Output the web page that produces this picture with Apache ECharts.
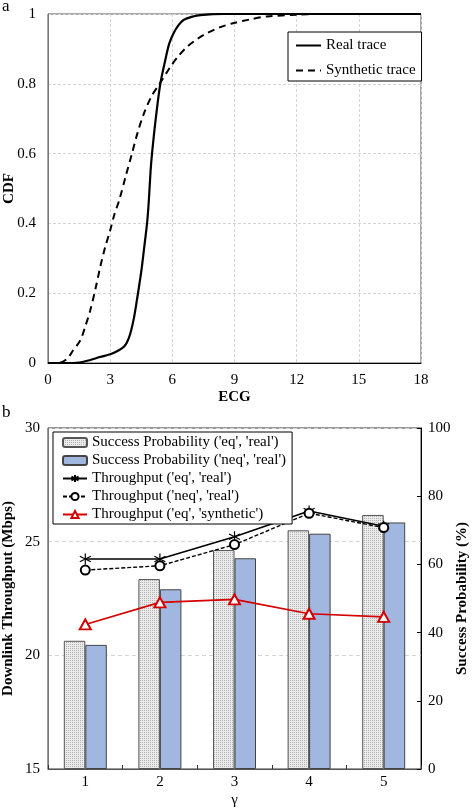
<!DOCTYPE html>
<html>
<head>
<meta charset="utf-8">
<script src="https://cdn.jsdelivr.net/npm/echarts@6/dist/echarts.min.js"></script>
<style>
html,body{margin:0;padding:0;background:#fff;}
#c{width:472px;height:810px;}
</style>
</head>
<body>
<div id="c"></div>
<script>
// ---- Chart (a): CDF data ----
var realTrace = [[0,0],[1.2,0],[1.5,0.001],[2.0,0.008],[2.5,0.017],[3.0,0.025],[3.4,0.036],[3.65,0.046],[3.8,0.058],[3.97,0.084],[4.15,0.13],[4.29,0.18],[4.42,0.23],[4.53,0.275],[4.66,0.34],[4.78,0.40],[4.86,0.46],[4.95,0.55],[5.02,0.60],[5.2,0.70],[5.42,0.80],[5.66,0.868],[5.85,0.915],[6.06,0.945],[6.3,0.968],[6.54,0.983],[7.0,0.993],[7.35,0.997],[8.5,1],[18,1]];
var synthTrace = [[0,0],[0.51,0],[0.92,0.012],[1.2,0.035],[1.56,0.065],[1.8,0.105],[2.04,0.151],[2.3,0.215],[2.52,0.275],[2.75,0.33],[3.0,0.38],[3.2,0.425],[3.44,0.467],[3.75,0.535],[4.05,0.60],[4.3,0.655],[4.61,0.712],[5.0,0.765],[5.39,0.80],[5.9,0.848],[6.3,0.88],[6.71,0.906],[7.2,0.928],[7.67,0.945],[8.3,0.962],[8.96,0.974],[9.8,0.985],[10.57,0.993],[12.0,0.998],[13.0,1],[18,1]];
var cdfXTicks = [0, 3, 6, 9, 12, 15, 18];

// ---- Chart (b): gamma data ----
var gammaCats = ['1', '2', '3', '4', '5'];
var succEqReal = [37.6, 55.7, 64.2, 70.0, 74.5];
var succNeqReal = [36.4, 52.7, 61.8, 69.0, 72.3];
var thrEqReal = [24.24, 24.24, 25.22, 26.35, 25.68];
var thrNeqReal = [23.75, 23.94, 24.87, 26.25, 25.62];
var thrEqSynth = [21.36, 22.33, 22.46, 21.83, 21.69];

// stipple pattern for grey bars
var pc = document.createElement('canvas');
pc.width = 2; pc.height = 2;
var pctx = pc.getContext('2d');
pctx.fillStyle = '#ececec'; pctx.fillRect(0,0,2,2);
pctx.fillStyle = '#b0b0b0'; pctx.fillRect(0,0,1,1);
var stipple = {image: pc, repeat: 'repeat'};

var FONT = 'Liberation Serif';
var txt = {fontFamily: FONT, fontSize: 15, color: '#000'};
var nameTxt = {fontFamily: FONT, fontSize: 15, fontWeight: 'bold', color: '#000'};
var asterisk = 'path://M5,0L5,10M0.7,2.5L9.3,7.5M9.3,2.5L0.7,7.5';

var chart = echarts.init(document.getElementById('c'), null, {renderer: 'canvas'});
chart.setOption({
  backgroundColor: '#fff',
  animation: false,
  textStyle: {fontFamily: FONT},
  graphic: [
    {type: 'text', left: 2, top: -2, style: {text: 'a', font: '17px "Liberation Serif"', fill: '#000'}},
    {type: 'text', left: 2, top: 404, style: {text: 'b', font: '17px "Liberation Serif"', fill: '#000'}}
  ],
  grid: [
    {left: 48, top: 14, width: 373, height: 349, show: true, borderColor: '#555', borderWidth: 1, containLabel: false, outerBoundsMode: 'none'},
    {left: 48, top: 428, width: 373, height: 341, show: true, borderColor: '#333', borderWidth: 1, containLabel: false, outerBoundsMode: 'none'}
  ],
  legend: [
    {
      data: [{name: 'Real trace', itemStyle: {opacity: 0}}, {name: 'Synthetic trace', itemStyle: {opacity: 0}}],
      orient: 'vertical', left: 288, top: 32,
      padding: [6, 6, 3, 7], itemGap: 10, itemWidth: 25, itemHeight: 10,
      borderColor: '#000', borderWidth: 1, backgroundColor: '#fff',
      textStyle: {fontFamily: FONT, fontSize: 15, color: '#000'}
    },
    {
      data: ["Success Probability ('eq', 'real')", "Success Probability ('neq', 'real')", "Throughput ('eq', 'real')", "Throughput ('neq', 'real')", "Throughput ('eq', 'synthetic')"],
      orient: 'vertical', left: 53, top: 432,
      padding: [3, 6, 2, 9], itemGap: 3, itemWidth: 24, itemHeight: 9,
      borderColor: '#000', borderWidth: 1, backgroundColor: '#fff',
      textStyle: {fontFamily: FONT, fontSize: 15, color: '#000'}
    }
  ],
  xAxis: [
    {
      type: 'value', gridIndex: 0, min: 0, max: 18, interval: 3,
      axisLine: {lineStyle: {color: '#000', width: 1}},
      axisTick: {show: false},
      axisLabel: Object.assign({margin: 10}, txt),
      splitLine: {show: true, lineStyle: {color: '#d4d4d4', type: [3, 2]}},
      name: 'ECG', nameLocation: 'middle', nameGap: 27, nameMoveOverlap: false, nameTextStyle: nameTxt
    },
    {
      type: 'category', gridIndex: 1, data: gammaCats, boundaryGap: true,
      axisLine: {lineStyle: {color: '#555', width: 1}},
      axisTick: {show: true, inside: true, length: 4, lineStyle: {color: '#333'}},
      axisLabel: Object.assign({margin: 6}, txt),
      splitLine: {show: false},
      name: 'γ', nameLocation: 'middle', nameGap: 24, nameMoveOverlap: false,
      nameTextStyle: {fontFamily: FONT, fontSize: 15, color: '#000'}
    }
  ],
  yAxis: [
    {
      type: 'value', gridIndex: 0, min: 0, max: 1, interval: 0.2,
      axisLine: {show: true, lineStyle: {color: '#777', width: 1}},
      axisTick: {show: false},
      axisLabel: Object.assign({margin: 12}, txt),
      splitLine: {show: true, lineStyle: {color: '#d4d4d4', type: [3, 2]}},
      name: 'CDF', nameLocation: 'middle', nameGap: 31, nameRotate: 90, nameMoveOverlap: false, nameTextStyle: nameTxt
    },
    {
      type: 'value', gridIndex: 1, min: 15, max: 30, interval: 5, position: 'left',
      axisLine: {show: true, lineStyle: {color: '#777', width: 1}},
      axisTick: {show: false},
      axisLabel: Object.assign({margin: 8}, txt),
      splitLine: {show: true, lineStyle: {color: '#d4d4d4', type: [4, 3]}},
      name: 'Downlink Throughput (Mbps)', nameLocation: 'middle', nameGap: 32, nameRotate: 90, nameMoveOverlap: false, nameTextStyle: nameTxt
    },
    {
      type: 'value', gridIndex: 1, min: 0, max: 100, interval: 20, position: 'right',
      axisLine: {show: true, lineStyle: {color: '#000', width: 1}},
      axisTick: {show: true, inside: true, length: 4, lineStyle: {color: '#000'}},
      axisLabel: Object.assign({margin: 7}, txt),
      splitLine: {show: false},
      name: 'Success Probability (%)', nameLocation: 'middle', nameGap: 34, nameRotate: 90, nameMoveOverlap: false, nameTextStyle: nameTxt
    }
  ],
  series: [
    {
      name: 'Real trace', type: 'line', xAxisIndex: 0, yAxisIndex: 0,
      data: realTrace, smooth: 0.3, symbol: 'none',
      lineStyle: {color: '#000', width: 2.2}, itemStyle: {color: '#000'}
    },
    {
      name: 'Synthetic trace', type: 'line', xAxisIndex: 0, yAxisIndex: 0,
      data: synthTrace, smooth: 0.3, symbol: 'none',
      lineStyle: {color: '#000', width: 2, type: [7, 5]}, itemStyle: {color: '#000'}
    },
    {
      name: "Success Probability ('eq', 'real')", type: 'bar', xAxisIndex: 1, yAxisIndex: 2,
      data: succEqReal, barWidth: 21.5, barGap: '0%',
      itemStyle: {color: stipple, borderColor: '#555', borderWidth: 1}
    },
    {
      name: "Success Probability ('neq', 'real')", type: 'bar', xAxisIndex: 1, yAxisIndex: 2,
      data: succNeqReal, barWidth: 21.5, barGap: '0%',
      itemStyle: {color: '#a2b7e0', borderColor: '#444', borderWidth: 1}
    },
    {
      name: "Throughput ('eq', 'real')", type: 'line', xAxisIndex: 1, yAxisIndex: 1,
      data: thrEqReal, symbol: asterisk, symbolSize: 11,
      lineStyle: {color: '#000', width: 1.6},
      itemStyle: {color: '#000', borderColor: '#000', borderWidth: 1.2}
    },
    {
      name: "Throughput ('neq', 'real')", type: 'line', xAxisIndex: 1, yAxisIndex: 1,
      data: thrNeqReal, symbol: 'emptyCircle', symbolSize: 9,
      lineStyle: {color: '#000', width: 1.4, type: [4, 2]},
      itemStyle: {color: '#000', borderColor: '#000', borderWidth: 1}
    },
    {
      name: "Throughput ('eq', 'synthetic')", type: 'line', xAxisIndex: 1, yAxisIndex: 1,
      data: thrEqSynth, symbol: 'emptyTriangle', symbolSize: [11, 10],
      lineStyle: {color: '#d40000', width: 1.6},
      itemStyle: {color: '#d40000', borderColor: '#d40000', borderWidth: 1}
    }
  ]
});
</script>
</body>
</html>
